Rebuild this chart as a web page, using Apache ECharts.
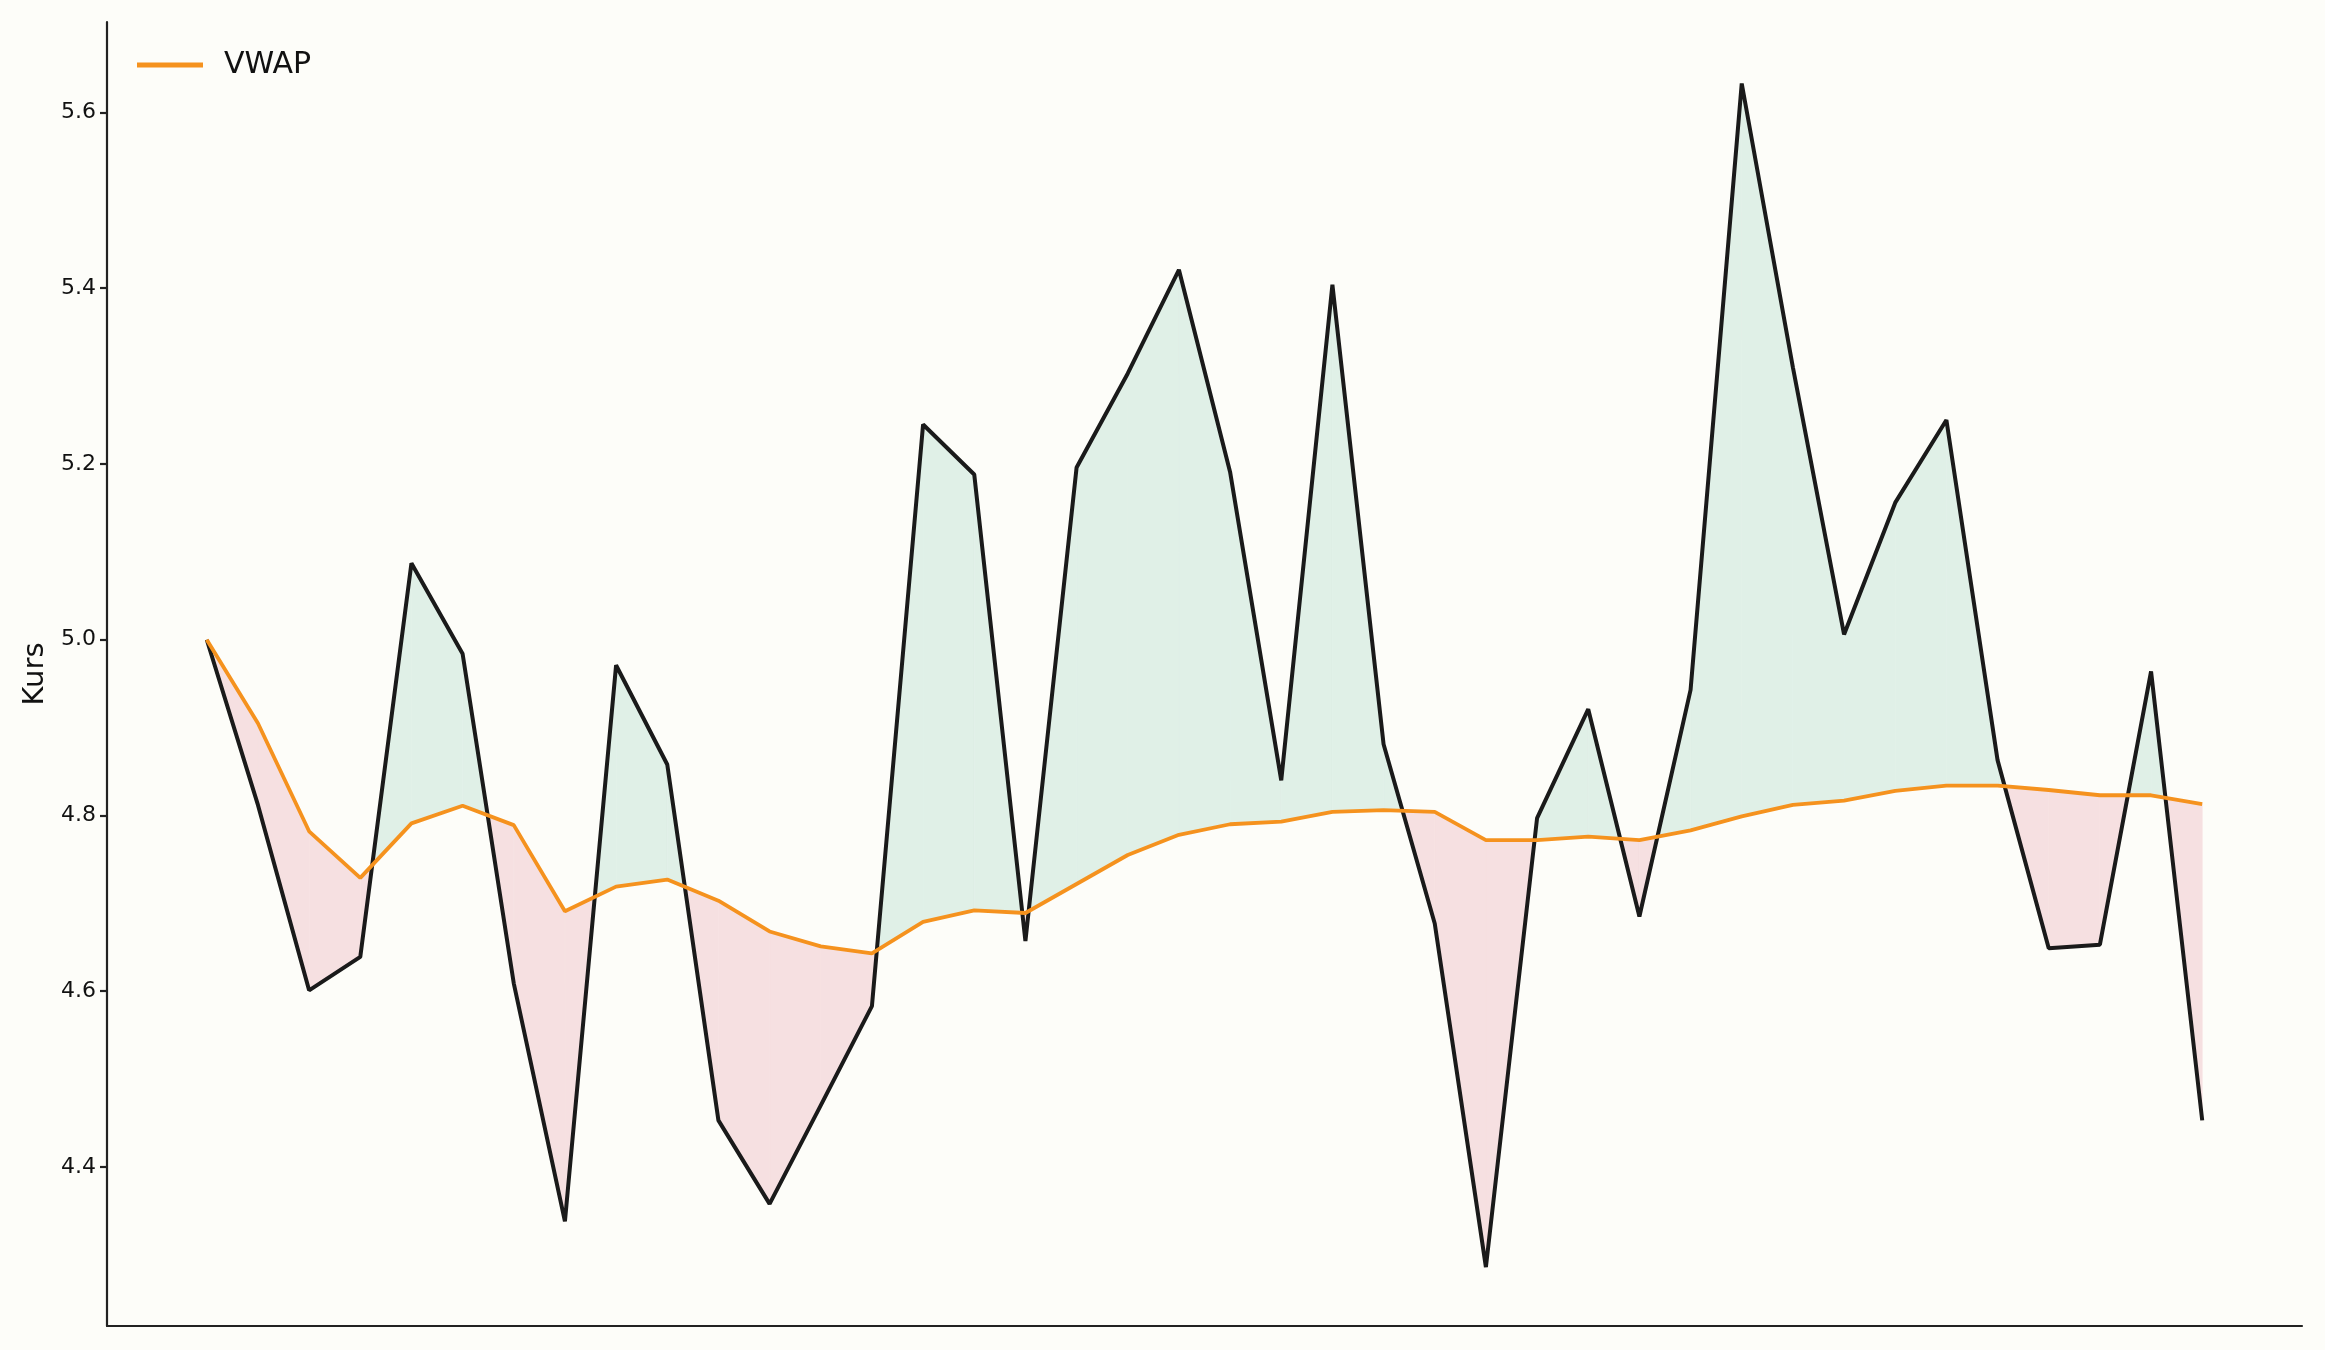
<!DOCTYPE html>
<html>
<head>
<meta charset="utf-8">
<script src="https://cdn.jsdelivr.net/npm/echarts@6/dist/echarts.min.js"></script>
<style>
html,body{margin:0;padding:0;background:#fdfdf9;}
#chart{width:2325px;height:1350px;}
</style>
</head>
<body>
<div id="chart"></div>
<script>
// ---- data ----
var steps = [0,1,2,3,4,5,6,7,8,9,10,11,12,13,14,15,16,17,18,19,20,21,22,23,24,25,26,27,28,29,30,31,32,33,34,35,36,37,38,39];
var price = [5.000,4.812,4.601,4.639,5.087,4.984,4.609,4.338,4.971,4.858,
             4.453,4.358,4.470,4.583,5.245,5.188,4.657,5.196,5.303,5.421,
             5.191,4.840,5.404,4.881,4.677,4.286,4.797,4.921,4.685,4.943,
             5.633,5.310,5.006,5.156,5.250,4.863,4.649,4.653,4.964,4.453];
var vwap  = [5.000,4.905,4.782,4.729,4.791,4.811,4.789,4.691,4.719,4.727,
             4.703,4.668,4.651,4.643,4.679,4.692,4.689,4.722,4.755,4.778,
             4.790,4.793,4.804,4.806,4.804,4.772,4.772,4.776,4.772,4.783,
             4.799,4.812,4.817,4.828,4.834,4.834,4.829,4.823,4.823,4.813];
var yTicks = [4.4,4.6,4.8,5.0,5.2,5.4,5.6];
var yName = 'Kurs';
var vwapName = 'VWAP';

// ---- build ----
var priceData = steps.map(function(s,i){return [s, price[i]];});
var vwapData = steps.map(function(s,i){return [s, vwap[i]];});
var segData = [];
for (var i=0;i<steps.length-1;i++){
  segData.push([steps[i], price[i], vwap[i], steps[i+1], price[i+1], vwap[i+1]]);
}
var GREEN = '#e0f0e7', RED = '#f6e0e1';

function renderFill(params, api){
  var x0=api.value(0), p0=api.value(1), v0=api.value(2);
  var x1=api.value(3), p1=api.value(4), v1=api.value(5);
  var d0=p0-v0, d1=p1-v1;
  var children=[];
  function poly(pts,color){
    children.push({type:'polygon', shape:{points:pts.map(function(p){return api.coord(p);})},
      style:{fill:color, stroke:color, lineWidth:0.6}});
  }
  if (d0*d1 >= 0){
    var s = (d0+d1)>=0;
    poly([[x0,p0],[x1,p1],[x1,v1],[x0,v0]], s?GREEN:RED);
  } else {
    var t = d0/(d0-d1);
    var xc = x0 + t*(x1-x0);
    var yc = p0 + t*(p1-p0);
    poly([[x0,p0],[xc,yc],[x0,v0]], d0>0?GREEN:RED);
    poly([[xc,yc],[x1,p1],[x1,v1]], d1>0?GREEN:RED);
  }
  return {type:'group', children:children};
}

var chart = echarts.init(document.getElementById('chart'));
chart.setOption({
  backgroundColor:'#fdfdf9',
  animation:false,
  textStyle:{fontFamily:'DejaVu Sans'},
  grid:{left:107, right:23, top:22, bottom:24, containLabel:false},
  legend:{
    data:[vwapName], left:132, top:45, orient:'vertical',
    icon:'rect', itemWidth:66, itemHeight:5,
    textStyle:{fontSize:30, color:'#111', fontFamily:'DejaVu Sans', padding:[0,0,0,16]}
  },
  xAxis:{
    type:'value', min:-1.95, max:40.95,
    axisLine:{show:true, onZero:false, lineStyle:{color:'#222', width:2.2}},
    axisTick:{show:false}, axisLabel:{show:false}, splitLine:{show:false}
  },
  yAxis:{
    type:'value', min:4.219, max:5.703,
    name:yName, nameLocation:'middle', nameRotate:90, nameGap:56,
    nameTextStyle:{fontSize:29, color:'#111', fontFamily:'DejaVu Sans'},
    axisLine:{show:true, onZero:false, lineStyle:{color:'#222', width:2.2}},
    axisTick:{show:true, length:7, customValues:yTicks, lineStyle:{color:'#222', width:2.2}},
    axisLabel:{show:true, customValues:yTicks, fontSize:22, color:'#111', margin:11,
      formatter:function(v){return v.toFixed(1);}},
    splitLine:{show:false}
  },
  series:[
    {type:'custom', name:'fill', renderItem:renderFill, data:segData,
     encode:{x:[0,3], y:[1,2,4,5]}, z:1, silent:true},
    {type:'line', name:'Kurs', data:priceData, symbol:'none', z:3,
     lineStyle:{color:'#1a1a1a', width:4}, itemStyle:{color:'#1a1a1a'}},
    {type:'line', name:vwapName, data:vwapData, symbol:'none', z:4,
     lineStyle:{color:'#f5921e', width:3.8}, itemStyle:{color:'#f5921e'}}
  ]
});
</script>
</body>
</html>
